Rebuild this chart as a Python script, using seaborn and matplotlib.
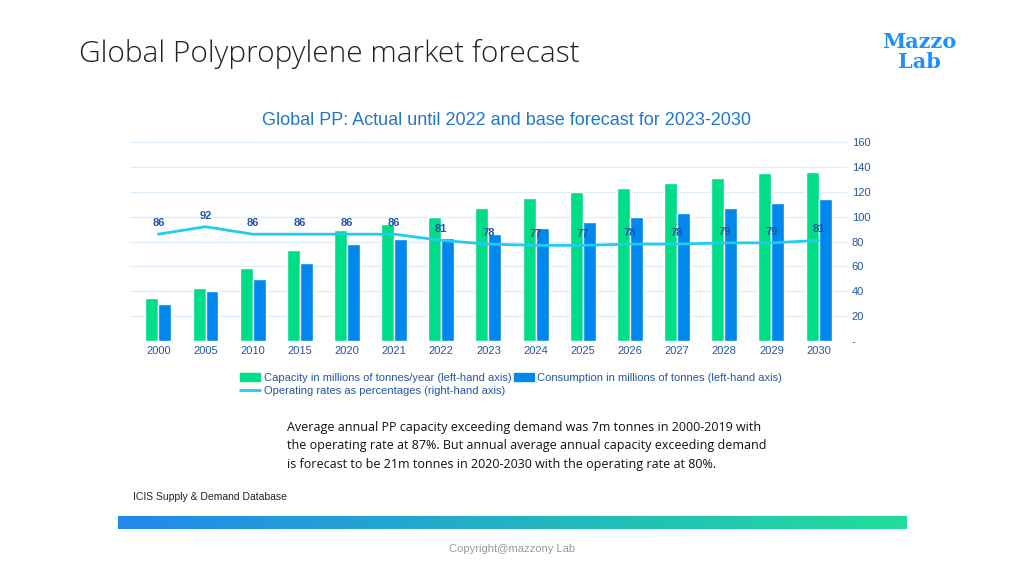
import pandas as pd
import numpy as np
import matplotlib.pyplot as plt
import seaborn as sns
from matplotlib.patches import Patch
from matplotlib.lines import Line2D

# Chart data
years = ["2000", "2005", "2010", "2015", "2020", "2021", "2022", "2023",
         "2024", "2025", "2026", "2027", "2028", "2029", "2030"]
capacity = [35, 43, 59, 73, 89, 94, 100, 107, 115, 120, 123, 127, 131, 135, 136]
consumption = [30, 40, 50, 63, 78, 82, 83, 86, 91, 96, 100, 103, 107, 111, 114]
operating_rate = [86, 92, 86, 86, 86, 86, 81, 78, 77, 77, 78, 78, 79, 79, 81]

cap_label = "Capacity in millions of tonnes/year (left-hand axis)"
con_label = "Consumption in millions of tonnes (left-hand axis)"
rate_label = "Operating rates as percentages (right-hand axis)"

df = pd.DataFrame({"Year": years * 2,
                   "Value": capacity + consumption,
                   "Series": [cap_label] * len(years) + [con_label] * len(years)})

# Set plot style
sns.set_style("white")
plt.rcParams["font.family"] = ["Liberation Sans", "DejaVu Sans"]

fig = plt.figure(figsize=(10.24, 5.76), dpi=100)
ax = fig.add_axes([0.127, 0.408, 0.70, 0.345])

# Bars: capacity and consumption
sns.barplot(data=df, x="Year", y="Value", hue="Series", saturation=1,
            palette=["#00DD88", "#0088EE"], width=0.55, ax=ax, legend=False)

# Line: operating rate, labelled
ax.plot(range(len(years)), operating_rate, color="#22CCEE", lw=2, label=rate_label)
for i, v in enumerate(operating_rate):
    ax.text(i, v + 5, str(v), ha="center", va="bottom", fontsize=8,
            fontweight="bold", color="#2255AA")

ax.set_ylim(0, 160)
ax.set_xlim(-0.6, len(years) - 0.4)
ax.set_yticks(range(0, 161, 20))
ax.set_yticklabels(["-"] + [str(t) for t in range(20, 161, 20)])
ax.yaxis.tick_right()
ax.tick_params(axis="both", labelsize=8, colors="#2255AA", length=0)
ax.grid(axis="y", color="#DDEEFF", lw=1)
ax.set_xlabel("")
ax.set_ylabel("")
for s in ax.spines.values():
    s.set_visible(False)

# Legend below the chart
handles = [Patch(color="#00DD88", label=cap_label),
           Line2D([], [], color="#22CCEE", lw=2, label=rate_label),
           Patch(color="#0088EE", label=con_label)]
leg = fig.legend(handles=handles, loc="upper left", bbox_to_anchor=(0.225, 0.37),
                 ncol=2, frameon=False, fontsize=8, handlelength=1.8,
                 columnspacing=0.2, handletextpad=0.3, labelspacing=0.3)
for t in leg.get_texts():
    t.set_color("#2255AA")

# Titles and notes
fig.text(0.077, 0.907, "Global Polypropylene market forecast", fontsize=21.5, color="#222222",
         va="center", family="Open Sans", fontweight="light")
fig.text(0.898, 0.91, "Mazzo\nLab", fontsize=15, fontweight="bold", color="#1E90FF",
         family="DejaVu Serif", ha="center", va="center", linespacing=1.0)
fig.text(0.495, 0.79, "Global PP: Actual until 2022 and base forecast for 2023-2030",
         fontsize=13, color="#2277CC", ha="center", va="center")
fig.text(0.28, 0.226, "Average annual PP capacity exceeding demand was 7m tonnes in 2000-2019 with\n"
         "the operating rate at 87%. But annual average annual capacity exceeding demand\n"
         "is forecast to be 21m tonnes in 2020-2030 with the operating rate at 80%.",
         fontsize=9, color="#111111", va="center", linespacing=1.55, family="Open Sans")
fig.text(0.13, 0.137, "ICIS Supply & Demand Database", fontsize=7.5, color="#222222", va="center")
fig.text(0.5, 0.047, "Copyright@mazzony Lab", fontsize=8, color="#999999", ha="center", va="center")

# Gradient bar
gax = fig.add_axes([0.115, 0.082, 0.77, 0.022])
gax.imshow(np.linspace(0, 1, 256)[None, :], aspect="auto",
           cmap=sns.blend_palette(["#2288EE", "#22DD99"], as_cmap=True))
gax.axis("off")

fig.savefig("out.png", dpi=100)
